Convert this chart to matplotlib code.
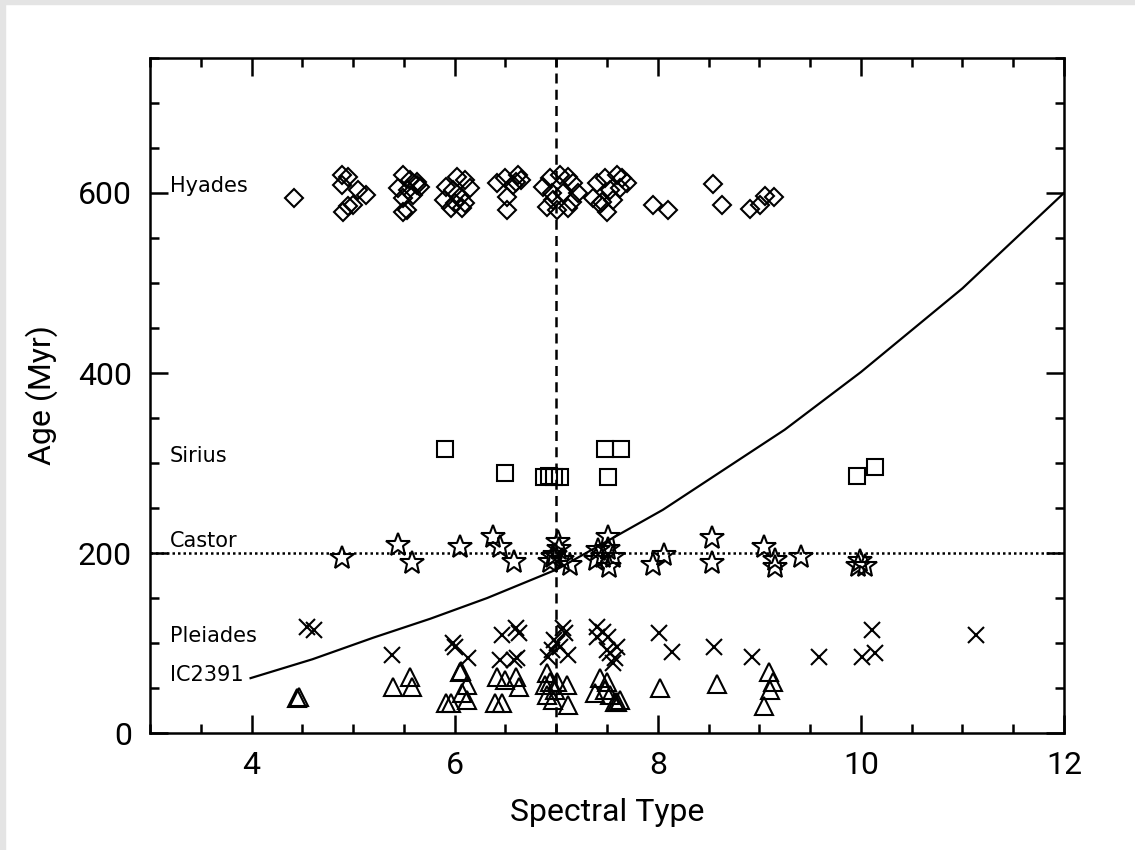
import numpy as np
import matplotlib.pyplot as plt
from matplotlib.patches import Rectangle
from matplotlib.ticker import MultipleLocator

# Edad de cada cúmulo frente al tipo espectral
hyades_x = [4.42, 4.89, 4.95, 4.89, 5.05, 5.13, 5.00, 4.90, 4.95,
            5.49, 5.56, 5.63, 5.44, 5.54, 5.66, 5.59, 5.49, 5.53, 5.49, 5.63,
            5.91, 6.02, 6.10, 6.15, 5.98, 6.05, 5.89, 6.10, 5.96, 6.07, 6.00,
            6.42, 6.50, 6.62, 6.65, 6.57, 6.52, 6.52, 6.60,
            6.87, 6.94, 7.04, 7.12, 7.17, 6.96, 7.07, 7.16, 6.91, 7.01, 7.12, 6.97, 7.21,
            7.40, 7.48, 7.60, 7.65, 7.70, 7.53, 7.63, 7.36, 7.45, 7.56, 7.50, 7.43,
            7.95, 8.10, 8.54, 8.63, 8.91, 9.01, 9.06, 9.14]
hyades_y = [594, 620, 618, 609, 603, 598, 587, 579, 585,
            620, 614, 612, 606, 603, 607, 598, 594, 581, 579, 609,
            607, 618, 614, 606, 603, 596, 592, 589, 583, 583, 589,
            611, 617, 620, 614, 609, 596, 581, 612,
            607, 617, 620, 618, 611, 600, 600, 590, 584, 581, 583, 592, 600,
            611, 617, 620, 617, 611, 603, 606, 594, 590, 592, 579, 588,
            587, 581, 610, 587, 582, 587, 597, 596]

sirius_x = [5.90, 6.50, 6.88, 6.93, 6.98, 7.04, 7.48, 7.64, 7.51, 9.96, 10.14]
sirius_y = [316, 289, 284, 286, 285, 284, 316, 316, 284, 286, 296]

castor_x = [4.89, 5.44, 5.58, 6.05, 6.38, 6.45, 6.58,
            7.02, 6.97, 7.06, 7.14, 6.94, 6.99, 7.03,
            7.51, 7.41, 7.51, 7.39, 7.52, 7.46, 7.56,
            7.95, 8.06, 8.53, 8.53, 9.05, 9.15, 9.15, 9.41, 9.97, 10.04, 9.99]
castor_y = [194, 209, 189, 207, 218, 207, 190,
            212, 196, 192, 187, 190, 198, 204,
            218, 203, 205, 192, 185, 196, 196,
            187, 198, 217, 189, 207, 192, 185, 196, 186, 186, 191]

pleiades_x = [4.55, 4.61, 5.38, 5.98, 6.00, 6.13,
              6.47, 6.60, 6.63, 6.45, 6.58, 6.61,
              7.07, 7.09, 7.01, 6.96, 7.04, 6.92, 7.12, 6.98,
              7.40, 7.46, 7.51, 7.40, 7.60, 7.53, 7.58, 7.56, 7.50,
              8.01, 8.14, 8.55, 8.93, 9.59, 10.01, 10.14, 10.11, 11.13]
pleiades_y = [118, 114, 87, 100, 96, 83,
              109, 117, 111, 81, 81, 83,
              117, 111, 100, 92, 96, 85, 87, 103,
              118, 112, 107, 107, 96, 89, 83, 78, 92,
              111, 90, 96, 85, 85, 85, 89, 115, 109]

ic2391_x = [4.45, 4.47, 5.39, 5.56, 5.58, 5.91, 5.96,
            6.05, 6.06, 6.12, 6.07, 6.12,
            6.42, 6.50, 6.60, 6.63, 6.40, 6.47,
            6.91, 6.89, 6.94, 6.99, 6.91, 6.97, 7.11, 7.12, 7.01,
            7.43, 7.50, 7.38, 7.48, 7.53, 7.58, 7.63, 7.60,
            8.02, 8.58, 9.10, 9.13, 9.11, 9.05]
ic2391_y = [39, 40, 51, 62, 51, 33, 33,
            68, 69, 53, 44, 37,
            62, 59, 62, 51, 33, 33,
            67, 53, 57, 48, 42, 37, 53, 31, 57,
            61, 57, 44, 48, 42, 34, 37, 35,
            50, 55, 68, 57, 48, 30]

# curva de edad límite
curva_x = [3.99, 4.60, 5.20, 5.76, 6.32, 7.01, 8.05, 9.25, 10.0, 11.0, 12.0]
curva_y = [61, 82, 106, 127, 150, 182, 248, 337, 401, 494, 600]

etiquetas = ["Hyades", "Sirius", "Castor", "Pleiades", "IC2391"]
etiquetas_y = [608, 308, 213, 108, 64]

fuente = ['Roboto', 'DejaVu Sans']

fig = plt.figure(figsize=(11.35, 8.5), dpi=100)
fig.patch.set_facecolor('white')
# franjas grises del borde
fig.patches.append(Rectangle((0, 0), 0.004, 1, transform=fig.transFigure,
                             color='#e4e4e4', zorder=0))
fig.patches.append(Rectangle((0, 0.995), 1, 0.005, transform=fig.transFigure,
                             color='#e4e4e4', zorder=0))

ax = fig.add_axes([0.1322, 0.1376, 0.8052, 0.7942])

mk = dict(linestyle='none', markerfacecolor='none', markeredgecolor='black',
          markeredgewidth=1.5)
ax.plot(hyades_x, hyades_y, marker='D', markersize=9.3, **mk)
ax.plot(sirius_x, sirius_y, marker='s', markersize=11.5, **mk)
ax.plot(castor_x, castor_y, marker='*', markersize=18, **mk)
ax.plot(pleiades_x, pleiades_y, marker='x', markersize=12, **mk)
ax.plot(ic2391_x, ic2391_y, marker='^', markersize=12.5, **mk)

ax.plot(curva_x, curva_y, color='black', linewidth=1.6)
ax.axvline(7, color='black', linewidth=1.8, linestyle=(0, (4, 2.5)))
ax.axhline(200, color='black', linewidth=1.8, linestyle=(0, (1, 1.2)))

for nombre, yy in zip(etiquetas, etiquetas_y):
    ax.text(3.197, yy, nombre, fontsize=15, va='center', ha='left',
            family=['DejaVu Sans'])

ax.set_xlim(3, 12)
ax.set_ylim(0, 750)
ax.xaxis.set_major_locator(MultipleLocator(2))
ax.xaxis.set_minor_locator(MultipleLocator(0.5))
ax.yaxis.set_major_locator(MultipleLocator(200))
ax.yaxis.set_minor_locator(MultipleLocator(50))
ax.tick_params(which='both', direction='in', top=True, right=True,
               width=1.8, labelsize=23, colors='black')
ax.tick_params(which='major', length=13, pad=13)
ax.tick_params(which='minor', length=6.5)
for lab in ax.get_xticklabels() + ax.get_yticklabels():
    lab.set_family(fuente)
for sp in ax.spines.values():
    sp.set_linewidth(1.8)

ax.set_xlabel("Spectral Type", fontsize=23, family=fuente, labelpad=13)
ax.set_ylabel("Age (Myr)", fontsize=23, family=fuente, labelpad=14)

fig.savefig("out.png", dpi=100)
